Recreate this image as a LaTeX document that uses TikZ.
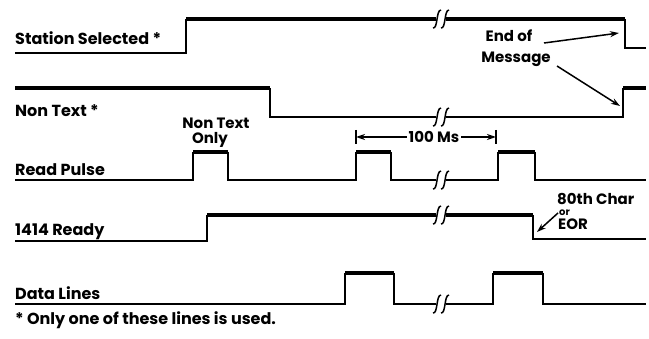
\documentclass[tikz,border=0pt]{standalone}
\usepackage{fontspec}
\setmainfont{Poppins}
\usetikzlibrary{arrows.meta}

% break mark on a signal line
\newcommand{\brk}[2]{%
  \fill[white] (#1-1,#2-5) rectangle (#1+9,#2+5);
  \draw[line width=1.5pt] (#1-4,#2+9) .. controls (#1+1,#2+10) and (#1-1,#2-9) .. (#1+4,#2-9);
  \draw[line width=1.5pt] (#1+4,#2+9) .. controls (#1+9,#2+10) and (#1+7,#2-9) .. (#1+12,#2-9);
}

\begin{document}
\begin{tikzpicture}[x=1pt,y=-1pt,
    lo/.style={line width=1.8pt},
    hi/.style={line width=3.6pt},
    lbl/.style={anchor=base west,inner sep=0pt,font=\bfseries\fontsize{16}{16}\selectfont},
    note/.style={anchor=base,inner sep=0pt,font=\bfseries\fontsize{15}{15}\selectfont},
    pt/.style={-{Stealth[length=9pt,width=6pt]},line width=1.5pt}]
  \useasboundingbox (0,0) rectangle (649,339);

  % Station Selected
  \node[lbl] (SS) at (15,45) {Station Selected *};
  \draw[lo] (15,53) -- (186,53) -- (186,19);
  \draw[hi] (186,19) -- (625,19);
  \draw[lo] (625,19) -- (625,48) -- (646,48);
  \brk{437}{19}

  % Non Text
  \node[lbl] (NT) at (15,117) {Non Text *};
  \draw[hi] (15,88) -- (270,88);
  \draw[lo] (270,88) -- (270,117) -- (623,117) -- (623,88);
  \draw[hi] (623,88) -- (646,88);
  \brk{437}{117}

  % Read Pulse
  \node[lbl] (RP) at (15,176) {Read Pulse};
  \draw[lo] (15,180) -- (193,180) -- (193,152);
  \draw[hi] (193,152) -- (228,152);
  \draw[lo] (228,152) -- (228,180) -- (356,180) -- (356,152);
  \draw[hi] (356,152) -- (391,152);
  \draw[lo] (391,152) -- (391,180) -- (498,180) -- (498,152);
  \draw[hi] (498,152) -- (535,152);
  \draw[lo] (535,152) -- (535,180) -- (646,180);
  \brk{437}{180}

  % 1414 Ready
  \node[lbl] (RD) at (15,236) {1414 Ready};
  \draw[lo] (15,241) -- (207,241) -- (207,215);
  \draw[hi] (207,215) -- (533,215);
  \draw[lo] (533,215) -- (533,239) -- (646,239);
  \brk{437}{215}

  % Data Lines
  \node[lbl] (DL) at (15,300) {Data Lines};
  \draw[lo] (15,304) -- (345,304) -- (345,273);
  \draw[hi] (345,273) -- (394,273);
  \draw[lo] (394,273) -- (394,304) -- (493,304) -- (493,273);
  \draw[hi] (493,273) -- (543,273);
  \draw[lo] (543,273) -- (543,304) -- (646,304);
  \brk{437}{304}

  \node[lbl] (FN) at (15,325) {* Only one of these lines is used.};

  % notes
  \node[note] (NT1) at (216,129) {Non Text};
  \node[note] (NT2) at (210,144) {Only};

  \coordinate (D1) at (356,137);
  \coordinate (D2) at (496,137);
  \draw[line width=1.5pt] (356,130) -- (356,144);
  \draw[line width=1.5pt] (496,130) -- (496,144);
  \node[note,anchor=center,fill=white,inner xsep=2pt] (MS) at (434,137) {100 Ms};
  \draw[pt] (MS.west) -- (D1);
  \draw[pt] (MS.east) -- (D2);

  \node[note] (EOM1) at (509,42) {End of};
  \node[note] (EOM2) at (516,63) {Message};
  \coordinate (E1) at (619,33);
  \coordinate (E2) at (620,106);
  \draw[pt] (544,43) -- (E1);
  \draw[pt] (557,66) -- (E2);

  \node[note,anchor=base west] (C1) at (557,205) {80th Char};
  \node[note,anchor=base west,font=\bfseries\fontsize{10}{10}\selectfont] (C2) at (559,216) {or};
  \node[note,anchor=base west] (C3) at (558,230) {EOR};
  \coordinate (R1) at (537,232);
  \draw[pt] (558,213) -- (R1);
\end{tikzpicture}
\end{document}
